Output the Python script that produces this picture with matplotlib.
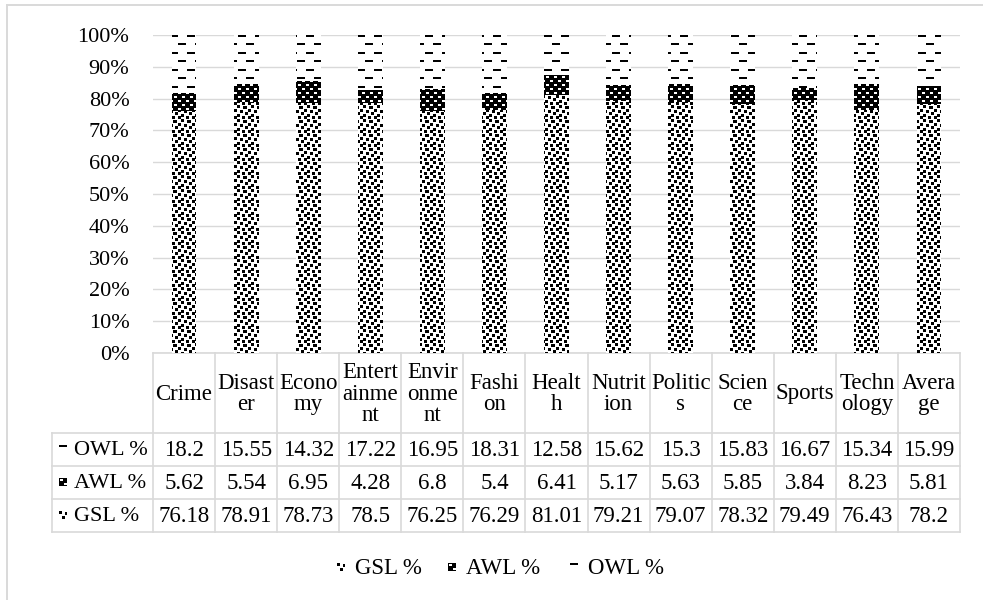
import numpy as np
import matplotlib
matplotlib.use("Agg")
import matplotlib.pyplot as plt
from matplotlib.path import Path
from matplotlib.patches import PathPatch

plt.rcParams["font.family"] = ["Liberation Serif", "DejaVu Serif"]

# ---- data ----
categories = ["Crime", "Disaster", "Economy", "Entertainment", "Environment",
              "Fashion", "Health", "Nutrition", "Politics", "Science",
              "Sports", "Technology", "Average"]
header_labels = ["Crime", "Disast\ner", "Econo\nmy", "Entert\nainme\nnt",
                 "Envir\nonme\nnt", "Fashi\non", "Healt\nh", "Nutrit\nion",
                 "Politic\ns", "Scien\nce", "Sports", "Techn\nology", "Avera\nge"]
gsl = [76.18, 78.91, 78.73, 78.5, 76.25, 76.29, 81.01, 79.21, 79.07, 78.32, 79.49, 76.43, 78.2]
awl = [5.62, 5.54, 6.95, 4.28, 6.8, 5.4, 6.41, 5.17, 5.63, 5.85, 3.84, 8.23, 5.81]
owl = [18.2, 15.55, 14.32, 17.22, 16.95, 18.31, 12.58, 15.62, 15.3, 15.83, 16.67, 15.34, 15.99]
series_names = ["GSL %", "AWL %", "OWL %"]
y_ticks = [0, 10, 20, 30, 40, 50, 60, 70, 80, 90, 100]

# ---- fill patterns (1 = black pixel) ----
def confetti_tile():
    t = np.zeros((14, 14))
    for (x, y, w, h) in [(0, 0, 3, 3), (6, 1, 4, 3), (11, 4, 3, 3), (3, 5, 3, 3),
                         (8, 7, 3, 3), (0, 9, 3, 3), (5, 11, 3, 3), (11, 11, 3, 3)]:
        t[y:y + h, x:x + w] = 1
    return t

def sphere_tile():
    t = np.ones((8, 8))
    t[1:3, 1:4] = 0
    t[5:7, 5:8] = 0
    return t

def dash_tile():
    t = np.zeros((17, 17))
    t[0:2, 0:8] = 1
    t[8:10, 8:16] = 1
    return t

tiles = [confetti_tile(), sphere_tile(), dash_tile()]

def tiled(tile, h, w):
    th, tw = tile.shape
    return np.tile(tile, (h // th + 1, w // tw + 1))[:h, :w]

# ---- figure / axes ----
W, H = 983, 600
fig = plt.figure(figsize=(W / 100, H / 100), dpi=100)
AX_L, AX_R, AX_T, AX_B = 153, 960, 35, 353
ax = fig.add_axes([AX_L / W, 1 - AX_B / H, (AX_R - AX_L) / W, (AX_B - AX_T) / H])
ax.set_facecolor("none")

ov = fig.add_axes([0, 0, 1, 1], zorder=-1)
ov.set_xlim(0, W)
ov.set_ylim(H, 0)
ov.axis("off")

n = len(categories)
x = np.arange(n)
XL = (-0.5, n - 0.5)

pw, ph = AX_R - AX_L, AX_B - AX_T
bottom = np.zeros(n)
for vals, tile in zip([gsl, awl, owl], tiles):
    bars = ax.bar(x, vals, width=0.4, bottom=bottom, facecolor="white",
                  linewidth=0, zorder=2)
    paths = [b.get_path().transformed(b.get_patch_transform()) for b in bars]
    clip = PathPatch(Path.make_compound_path(*paths), transform=ax.transData,
                     facecolor="none", edgecolor="none")
    ax.add_patch(clip)
    im = ax.imshow(tiled(tile, ph, pw), extent=(XL[0], XL[1], 0, 100),
                   cmap="gray_r", vmin=0, vmax=1, interpolation="nearest",
                   aspect="auto", zorder=3)
    im.set_clip_path(clip)
    bottom = bottom + np.array(vals)

ax.set_xlim(*XL)
ax.set_ylim(0, 100)
ax.set_yticks(y_ticks)
ax.set_yticklabels([f"{v}%" for v in y_ticks], fontsize=16)
ax.tick_params(axis="y", length=0, pad=17)
ax.set_xticks([])
ax.yaxis.grid(True, color="#d9d9d9", linewidth=1.0)
ax.set_axisbelow(True)
for s in ax.spines.values():
    s.set_visible(False)

# ---- outer chart border ----
border = "#d9d9d9"
ov.plot([7, W], [5, 5], color=border, lw=1.4)
ov.plot([7, 7], [5, H], color=border, lw=1.4)

# ---- data table ----
colw = (AX_R - AX_L) / n
xs = [AX_L + i * colw for i in range(n + 1)]
LBL_L = 52
row_edges = [353, 433, 466, 499, 532]
lc = "#d9d9d9"
lw = 1.2
for xe in xs:
    ov.plot([xe, xe], [row_edges[0], row_edges[-1]], color=lc, lw=lw)
ov.plot([LBL_L, LBL_L], [row_edges[1], row_edges[-1]], color=lc, lw=lw)
ov.plot([AX_L, AX_R], [row_edges[0]] * 2, color=lc, lw=lw)
for ye in row_edges[1:]:
    ov.plot([LBL_L, AX_R], [ye, ye], color=lc, lw=lw)

for i, lab in enumerate(header_labels):
    ov.text(xs[i] + colw / 2, (row_edges[0] + row_edges[1]) / 2 + 1, lab,
            ha="center", va="center", fontsize=16.5, linespacing=1.05)

def key(ax_, tile, x0, yc, size=8):
    crop = tiled(tile, size, size)
    ax_.imshow(crop, extent=(x0, x0 + size, yc + size / 2, yc - size / 2),
               cmap="gray_r", vmin=0, vmax=1, interpolation="nearest",
               aspect="auto", zorder=3)

table_rows = [(series_names[2], owl, tiles[2]),
              (series_names[1], awl, tiles[1]),
              (series_names[0], gsl, tiles[0])]
for r, (name, vals, tile) in enumerate(table_rows):
    yc = (row_edges[r + 1] + row_edges[r + 2]) / 2
    key(ov, tile, 59, yc)
    ov.text(74, yc + 1, name, ha="left", va="center", fontsize=16)
    for i, v in enumerate(vals):
        ov.text(xs[i] + colw / 2, yc + 1, f"{v:g}", ha="center", va="center",
                fontsize=16.5)

# ---- legend ----
leg_y = 567
for name, tile, kx in zip(series_names, tiles, [337, 448, 570]):
    key(ov, tile, kx, leg_y)
    ov.text(kx + 18, leg_y + 1, name, ha="left", va="center", fontsize=16.5)

ov.set_xlim(0, W)
ov.set_ylim(H, 0)

fig.savefig("out.png", dpi=100, facecolor="white")
